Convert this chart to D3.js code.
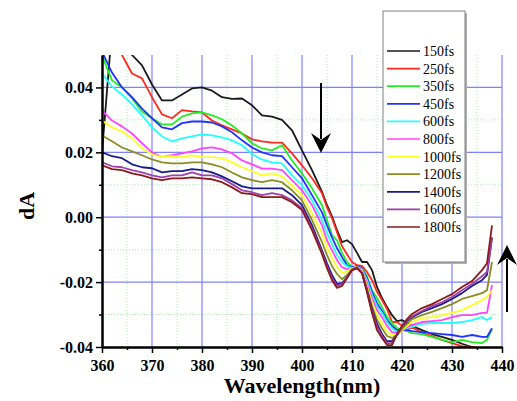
<!DOCTYPE html>
<html>
<head>
<meta charset="utf-8">
<script src="https://cdn.jsdelivr.net/npm/d3@7"></script>
<style>
  html, body { margin: 0; padding: 0; background: #fff; }
  svg { display: block; }
  text { font-family: "Liberation Serif", "Times New Roman", serif; }
</style>
</head>
<body>
<svg id="chart" width="517" height="401"></svg>
<script>
// Transient absorption spectra (dA vs probe wavelength) at successive delays
const wavelengths = [
  360, 362, 364, 366, 368, 370, 372, 374, 376, 378, 380, 382, 384, 386, 388, 390,
  392, 394, 396, 398, 400, 402, 404,
  405, 406, 407, 408, 409, 410, 411, 412, 413, 414, 415, 416, 417, 418, 419, 420, 421, 422,
  424, 426, 428, 430, 432, 434, 436, 437, 438
];

const delays = ["150fs", "250fs", "350fs", "450fs", "600fs", "800fs", "1000fs", "1200fs", "1400fs", "1600fs", "1800fs"];
const colors = ["#1a1a1a", "#ff2a1a", "#22ee22", "#2233ff", "#22ffff", "#ff44ff", "#ffff22", "#8c8c22", "#1a1a8c", "#a040a8", "#8b1a1a"];

const dA150 = [
  0.0200, 0.0580, 0.0560, 0.0500, 0.0468, 0.0409, 0.0360, 0.0360, 0.0378, 0.0397, 0.0400, 0.0390, 0.0370, 0.0365, 0.0366, 0.0345,
  0.0314, 0.0310, 0.0300, 0.0268, 0.0206, 0.0145, 0.0078,
  0.0037, 0.0003, -0.0040, -0.0077, -0.0071, -0.0083, -0.0110, -0.0138, -0.0138, -0.0163, -0.0215, -0.0249, -0.0277, -0.0302, -0.0320, -0.0317, -0.0326, -0.0335,
  -0.0348, -0.0360, -0.0369, -0.0378, -0.0390, -0.0400, -0.0410, -0.0420, -0.0430
];
const dA250 = [
  0.0600, 0.0560, 0.0500, 0.0443, 0.0428, 0.0370, 0.0317, 0.0305, 0.0330, 0.0326, 0.0323, 0.0298, 0.0283, 0.0271, 0.0258, 0.0240,
  0.0234, 0.0230, 0.0230, 0.0197, 0.0160, 0.0120, 0.0074,
  0.0030, -0.0003, -0.0046, -0.0089, -0.0114, -0.0138, -0.0148, -0.0150, -0.0169, -0.0194, -0.0230, -0.0255, -0.0283, -0.0323, -0.0323, -0.0335, -0.0348, -0.0338,
  -0.0357, -0.0366, -0.0378, -0.0388, -0.0397, -0.0400, -0.0405, -0.0410, -0.0420
];
const dA350 = [
  0.0498, 0.0422, 0.0400, 0.0366, 0.0326, 0.0305, 0.0286, 0.0286, 0.0310, 0.0320, 0.0323, 0.0314, 0.0302, 0.0283, 0.0258, 0.0228,
  0.0212, 0.0206, 0.0222, 0.0175, 0.0135, 0.0089, 0.0037,
  -0.0009, -0.0055, -0.0071, -0.0110, -0.0138, -0.0154, -0.0154, -0.0157, -0.0182, -0.0225, -0.0249, -0.0277, -0.0308, -0.0326, -0.0342, -0.0348, -0.0351, -0.0357,
  -0.0360, -0.0369, -0.0378, -0.0385, -0.0378, -0.0385, -0.0388, -0.0378, -0.0345
];
const dA450 = [
  0.0510, 0.0446, 0.0400, 0.0370, 0.0335, 0.0305, 0.0277, 0.0271, 0.0290, 0.0295, 0.0295, 0.0292, 0.0280, 0.0262, 0.0237, 0.0215,
  0.0200, 0.0191, 0.0188, 0.0154, 0.0120, 0.0068, 0.0015,
  -0.0025, -0.0062, -0.0095, -0.0123, -0.0148, -0.0154, -0.0151, -0.0157, -0.0188, -0.0231, -0.0265, -0.0289, -0.0317, -0.0335, -0.0348, -0.0348, -0.0348, -0.0351,
  -0.0354, -0.0357, -0.0360, -0.0363, -0.0369, -0.0363, -0.0369, -0.0369, -0.0342
];
const dA600 = [
  0.0443, 0.0403, 0.0378, 0.0348, 0.0314, 0.0277, 0.0249, 0.0234, 0.0243, 0.0249, 0.0255, 0.0252, 0.0246, 0.0237, 0.0222, 0.0194,
  0.0178, 0.0169, 0.0166, 0.0129, 0.0098, 0.0052, -0.0009,
  -0.0049, -0.0083, -0.0117, -0.0138, -0.0151, -0.0157, -0.0154, -0.0160, -0.0194, -0.0240, -0.0274, -0.0295, -0.0323, -0.0342, -0.0354, -0.0348, -0.0342, -0.0338,
  -0.0329, -0.0326, -0.0326, -0.0326, -0.0323, -0.0317, -0.0308, -0.0317, -0.0308
];
const dA800 = [
  0.0329, 0.0298, 0.0280, 0.0258, 0.0228, 0.0200, 0.0185, 0.0191, 0.0197, 0.0203, 0.0212, 0.0215, 0.0209, 0.0197, 0.0175, 0.0163,
  0.0150, 0.0150, 0.0145, 0.0114, 0.0083, 0.0037, -0.0025,
  -0.0071, -0.0102, -0.0132, -0.0154, -0.0160, -0.0157, -0.0154, -0.0163, -0.0203, -0.0249, -0.0286, -0.0308, -0.0335, -0.0354, -0.0357, -0.0348, -0.0338, -0.0332,
  -0.0323, -0.0320, -0.0317, -0.0308, -0.0302, -0.0302, -0.0295, -0.0295, -0.0209
];
const dA1000 = [
  0.0298, 0.0277, 0.0265, 0.0243, 0.0212, 0.0194, 0.0185, 0.0188, 0.0185, 0.0191, 0.0185, 0.0185, 0.0182, 0.0169, 0.0154, 0.0142,
  0.0129, 0.0135, 0.0126, 0.0098, 0.0068, 0.0012, -0.0049,
  -0.0092, -0.0126, -0.0154, -0.0172, -0.0166, -0.0157, -0.0154, -0.0166, -0.0212, -0.0262, -0.0302, -0.0326, -0.0351, -0.0363, -0.0363, -0.0348, -0.0335, -0.0323,
  -0.0311, -0.0308, -0.0302, -0.0295, -0.0286, -0.0271, -0.0255, -0.0246, -0.0225
];
const dA1200 = [
  0.0252, 0.0234, 0.0215, 0.0203, 0.0191, 0.0178, 0.0169, 0.0166, 0.0166, 0.0169, 0.0169, 0.0163, 0.0154, 0.0138, 0.0123, 0.0114,
  0.0108, 0.0114, 0.0108, 0.0083, 0.0052, -0.0009, -0.0077,
  -0.0117, -0.0151, -0.0175, -0.0191, -0.0178, -0.0160, -0.0154, -0.0169, -0.0218, -0.0274, -0.0317, -0.0342, -0.0366, -0.0372, -0.0363, -0.0345, -0.0329, -0.0314,
  -0.0302, -0.0292, -0.0280, -0.0268, -0.0252, -0.0243, -0.0234, -0.0225, -0.0138
];
const dA1400 = [
  0.0200, 0.0188, 0.0182, 0.0163, 0.0154, 0.0151, 0.0138, 0.0142, 0.0142, 0.0148, 0.0145, 0.0138, 0.0126, 0.0111, 0.0095, 0.0089,
  0.0089, 0.0089, 0.0089, 0.0068, 0.0037, -0.0025, -0.0102,
  -0.0142, -0.0178, -0.0206, -0.0203, -0.0185, -0.0163, -0.0157, -0.0172, -0.0225, -0.0283, -0.0329, -0.0360, -0.0382, -0.0382, -0.0363, -0.0338, -0.0320, -0.0308,
  -0.0292, -0.0280, -0.0268, -0.0252, -0.0234, -0.0212, -0.0194, -0.0178, -0.0062
];
const dA1600 = [
  0.0169, 0.0157, 0.0154, 0.0145, 0.0138, 0.0129, 0.0123, 0.0129, 0.0129, 0.0138, 0.0129, 0.0129, 0.0120, 0.0102, 0.0083, 0.0077,
  0.0068, 0.0074, 0.0068, 0.0052, 0.0028, -0.0034, -0.0108,
  -0.0151, -0.0188, -0.0212, -0.0206, -0.0185, -0.0163, -0.0157, -0.0172, -0.0228, -0.0289, -0.0338, -0.0366, -0.0388, -0.0388, -0.0363, -0.0338, -0.0317, -0.0305,
  -0.0289, -0.0274, -0.0262, -0.0246, -0.0225, -0.0206, -0.0182, -0.0169, -0.0065
];
const dA1800 = [
  0.0160, 0.0148, 0.0145, 0.0135, 0.0129, 0.0120, 0.0114, 0.0120, 0.0120, 0.0123, 0.0120, 0.0117, 0.0108, 0.0092, 0.0074, 0.0071,
  0.0062, 0.0062, 0.0062, 0.0046, 0.0022, -0.0040, -0.0114,
  -0.0157, -0.0194, -0.0218, -0.0212, -0.0188, -0.0163, -0.0157, -0.0172, -0.0231, -0.0295, -0.0348, -0.0372, -0.0394, -0.0394, -0.0360, -0.0335, -0.0314, -0.0298,
  -0.0280, -0.0268, -0.0252, -0.0237, -0.0215, -0.0197, -0.0163, -0.0142, -0.0025
];
const seriesValues = [dA150, dA250, dA350, dA450, dA600, dA800, dA1000, dA1200, dA1400, dA1600, dA1800];

const xMajorTicks = [360, 370, 380, 390, 400, 410, 420, 430, 440];
const xMinorTicks = [365, 375, 385, 395, 405, 415, 425, 435];
const yMajorTicks = [-0.04, -0.02, 0, 0.02, 0.04];
const yMinorTicks = [-0.03, -0.01, 0.01, 0.03];

const serif = "'Liberation Serif', 'Times New Roman', serif";
const svg = d3.select("#chart");
const plot = { left: 102, right: 502, top: 55, bottom: 347 };

const x = d3.scaleLinear().domain([360, 440]).range([plot.left, plot.right]);
const y = d3.scaleLinear().domain([-0.04, 0.05]).range([plot.bottom, plot.top]);

// grid: dotted green minor lines, solid blue major lines
const grid = svg.append("g");
grid.selectAll(".vminor").data(xMinorTicks).join("line")
  .attr("x1", d => x(d)).attr("x2", d => x(d))
  .attr("y1", plot.top).attr("y2", plot.bottom)
  .attr("stroke", "#a8f0a8").attr("stroke-width", 1).attr("stroke-dasharray", "1,2");
grid.selectAll(".hminor").data(yMinorTicks).join("line")
  .attr("x1", plot.left).attr("x2", plot.right)
  .attr("y1", d => y(d)).attr("y2", d => y(d))
  .attr("stroke", "#a8f0a8").attr("stroke-width", 1).attr("stroke-dasharray", "1,2");
grid.selectAll(".vmajor").data(xMajorTicks.slice(1)).join("line")
  .attr("x1", d => x(d)).attr("x2", d => x(d))
  .attr("y1", plot.top).attr("y2", plot.bottom)
  .attr("stroke", "#8080ff").attr("stroke-width", 1.2);
grid.selectAll(".hmajor").data(yMajorTicks.slice(1)).join("line")
  .attr("x1", plot.left).attr("x2", plot.right)
  .attr("y1", d => y(d)).attr("y2", d => y(d))
  .attr("stroke", "#8080ff").attr("stroke-width", 1.2);

// spectra
svg.append("clipPath").attr("id", "plotclip")
  .append("rect")
  .attr("x", plot.left).attr("y", plot.top)
  .attr("width", plot.right - plot.left).attr("height", plot.bottom - plot.top);

const line = d3.line()
  .x((d, i) => x(wavelengths[i]))
  .y(d => y(d));

svg.append("g").attr("clip-path", "url(#plotclip)")
  .selectAll("path").data(seriesValues).join("path")
  .attr("d", d => line(d))
  .attr("fill", "none")
  .attr("stroke", (d, i) => colors[i])
  .attr("stroke-width", 1.8)
  .attr("stroke-linejoin", "round");

// axes
const xAxis = svg.append("g").attr("transform", `translate(0,${plot.bottom})`)
  .call(d3.axisBottom(x).tickValues(xMajorTicks).tickFormat(d3.format("d")).tickSize(6).tickSizeOuter(0));
const xMinor = svg.append("g").attr("transform", `translate(0,${plot.bottom})`)
  .call(d3.axisBottom(x).tickValues(xMinorTicks).tickFormat("").tickSize(3).tickSizeOuter(0));
const yAxis = svg.append("g").attr("transform", `translate(${plot.left},0)`)
  .call(d3.axisLeft(y).tickValues(yMajorTicks).tickFormat(d => d.toFixed(2)).tickSize(6).tickSizeOuter(0));
const yMinor = svg.append("g").attr("transform", `translate(${plot.left},0)`)
  .call(d3.axisLeft(y).tickValues(yMinorTicks).tickFormat("").tickSize(3).tickSizeOuter(0));

[xAxis, xMinor, yAxis, yMinor].forEach(g => {
  g.attr("font-family", serif);
  g.select(".domain").attr("stroke", "#000").attr("stroke-width", 2);
  g.selectAll(".tick line").attr("stroke", "#000").attr("stroke-width", 1.5);
});
xAxis.selectAll(".tick text")
  .attr("font-family", serif)
  .attr("font-size", 16).attr("font-weight", "bold").attr("fill", "#000")
  .attr("dy", "0.95em");
yAxis.selectAll(".tick text")
  .attr("font-family", serif)
  .attr("font-size", 16).attr("font-weight", "bold").attr("fill", "#000")
  .attr("x", -9);

// axis titles
svg.append("text")
  .attr("x", (plot.left + plot.right) / 2).attr("y", 393)
  .attr("text-anchor", "middle")
  .attr("font-family", serif)
  .attr("font-size", 22).attr("font-weight", "bold")
  .text("Wavelength(nm)");
svg.append("text")
  .attr("transform", `translate(34,${(plot.top + plot.bottom) / 2 + 5}) rotate(-90)`)
  .attr("text-anchor", "middle")
  .attr("font-family", serif)
  .attr("font-size", 22).attr("font-weight", "bold")
  .text("dA");

// legend
const legend = svg.append("g");
legend.append("rect")
  .attr("x", 385).attr("y", 13).attr("width", 82).attr("height", 251)
  .attr("fill", "#b0b0b0");
legend.append("rect")
  .attr("x", 383).attr("y", 11).attr("width", 82).attr("height", 251)
  .attr("fill", "#fff").attr("stroke", "#808080").attr("stroke-width", 1);
const rows = legend.selectAll(".row").data(delays).join("g")
  .attr("transform", (d, i) => `translate(0,${51 + i * 17.6})`);
rows.append("line")
  .attr("x1", 387).attr("x2", 420).attr("y1", 0).attr("y2", 0)
  .attr("stroke", (d, i) => colors[i]).attr("stroke-width", 1.7);
rows.append("text")
  .attr("x", 423).attr("y", 5)
  .attr("font-family", serif)
  .attr("font-size", 14).attr("fill", "#000")
  .text(d => d);

// time-evolution arrows
function arrow(xp, y0, y1) {
  const dir = Math.sign(y1 - y0);
  svg.append("line")
    .attr("x1", xp).attr("x2", xp).attr("y1", y0).attr("y2", y1 - dir * 14)
    .attr("stroke", "#000").attr("stroke-width", 2);
  svg.append("path")
    .attr("d", `M${xp - 10},${y1 - dir * 20} L${xp},${y1} L${xp + 10},${y1 - dir * 20} L${xp},${y1 - dir * 13} Z`)
    .attr("fill", "#000");
}
arrow(321, 83, 153);
arrow(507, 312, 245);
</script>
</body>
</html>
